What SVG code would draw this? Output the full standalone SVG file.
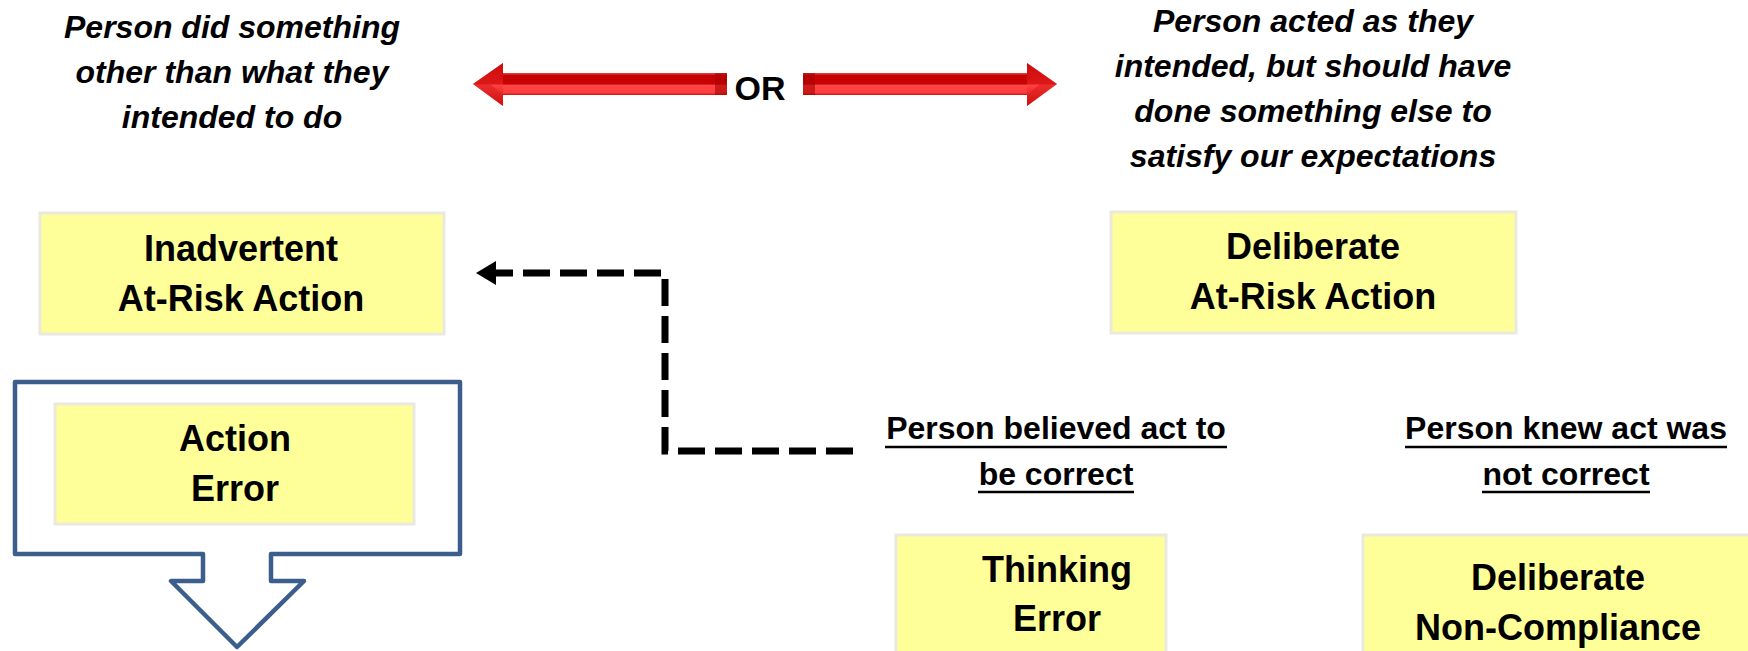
<svg xmlns="http://www.w3.org/2000/svg" width="1748" height="651" viewBox="0 0 1748 651">
  <style>
    text { font-family: "Liberation Sans", Arial, sans-serif; font-weight: bold; fill: #000; text-anchor: middle; }
    .it { font-style: italic; font-size: 32px; }
    .bx { font-size: 36px; }
    .lb { font-size: 32px; }
    .or { font-size: 34px; }
    .box { fill: #ffff99; stroke: #e9e9de; stroke-width: 3; }
    .ul { stroke: #000; stroke-width: 2.5; }
    .frame { fill: #fff; stroke: #3b5e8c; stroke-width: 4.5; stroke-linejoin: round; }
    .dash { fill: none; stroke: #000; stroke-width: 7; stroke-dasharray: 27 10; }
  </style>
  <defs>
    <linearGradient id="redShaft" x1="0" y1="0" x2="0" y2="1">
      <stop offset="0" stop-color="#e84a4a"/>
      <stop offset="0.12" stop-color="#c40000"/>
      <stop offset="0.5" stop-color="#c80404"/>
      <stop offset="0.56" stop-color="#ff4646"/>
      <stop offset="0.9" stop-color="#ff3c3c"/>
      <stop offset="1" stop-color="#c41010"/>
    </linearGradient>
    <linearGradient id="redHead" x1="0" y1="0" x2="0" y2="1">
      <stop offset="0" stop-color="#c00000"/>
      <stop offset="0.48" stop-color="#e01818"/>
      <stop offset="0.52" stop-color="#ff4040"/>
      <stop offset="1" stop-color="#c80808"/>
    </linearGradient>
    <marker id="blackHead" viewBox="0 0 20 24" refX="2" refY="12" markerWidth="20" markerHeight="24" markerUnits="userSpaceOnUse" orient="auto">
      <path d="M0,0 L20,12 L0,24 z" fill="#000"/>
    </marker>
  </defs>

  <!-- top explanatory texts -->
  <g id="text-inadvertent-desc">
    <text class="it" x="232" y="38">Person did something</text>
    <text class="it" x="232" y="83">other than what they</text>
    <text class="it" x="232" y="128">intended to do</text>
  </g>
  <g id="text-deliberate-desc">
    <text class="it" x="1313" y="32">Person acted as they</text>
    <text class="it" x="1313" y="77">intended, but should have</text>
    <text class="it" x="1313" y="122">done something else to</text>
    <text class="it" x="1313" y="167">satisfy our expectations</text>
  </g>

  <!-- OR double arrow -->
  <g id="or-arrows">
    <rect x="503" y="73" width="224" height="22" fill="url(#redShaft)"/>
    <path d="M715,73 L727,73 L727,95 L715,95 z" fill="#a80000" opacity="0.6"/>
    <path d="M473,84 L503,63 L503,106 z" fill="url(#redHead)"/>
    <path d="M473,84 L503,63 L503,73 L490,84 L503,95 L503,106 z" fill="#d81a1a" opacity="0.5"/>
    <rect x="803" y="73" width="224" height="22" fill="url(#redShaft)"/>
    <path d="M803,73 L815,73 L815,95 L803,95 z" fill="#a80000" opacity="0.6"/>
    <path d="M1057,84 L1027,63 L1027,106 z" fill="url(#redHead)"/>
    <path d="M1057,84 L1027,63 L1027,73 L1040,84 L1027,95 L1027,106 z" fill="#d81a1a" opacity="0.5"/>
    <text class="or" x="760" y="100">OR</text>
  </g>

  <!-- nodes -->
  <g id="node-inadvertent">
    <rect class="box" x="40" y="213" width="404" height="121"/>
    <text class="bx" x="241" y="261">Inadvertent</text>
    <text class="bx" x="241" y="311">At-Risk Action</text>
  </g>
  <g id="node-deliberate">
    <rect class="box" x="1111" y="212" width="405" height="121"/>
    <text class="bx" x="1313" y="259">Deliberate</text>
    <text class="bx" x="1313" y="309">At-Risk Action</text>
  </g>
  <g id="node-action-error">
    <path class="frame" d="M15,382 H460 V554 H271 V581 H304 L237,647 L171,581 H203 V554 H15 Z"/>
    <rect class="box" x="55" y="404" width="359" height="120"/>
    <text class="bx" x="235" y="451">Action</text>
    <text class="bx" x="235" y="501">Error</text>
  </g>
  <g id="label-believed">
    <text class="lb" x="1056" y="439">Person believed act to</text>
    <line class="ul" x1="885" y1="447" x2="1227" y2="447"/>
    <text class="lb" x="1056" y="485">be correct</text>
    <line class="ul" x1="978" y1="492" x2="1134" y2="492"/>
  </g>
  <g id="label-knew">
    <text class="lb" x="1566" y="439">Person knew act was</text>
    <line class="ul" x1="1405" y1="447" x2="1727" y2="447"/>
    <text class="lb" x="1566" y="485">not correct</text>
    <line class="ul" x1="1482" y1="492" x2="1650" y2="492"/>
  </g>
  <g id="node-thinking-error">
    <rect class="box" x="896" y="535" width="270" height="130"/>
    <text class="bx" x="1057" y="582">Thinking</text>
    <text class="bx" x="1057" y="631">Error</text>
  </g>
  <g id="node-deliberate-noncompliance">
    <rect class="box" x="1363" y="535" width="395" height="130"/>
    <text class="bx" x="1558" y="590">Deliberate</text>
    <text class="bx" x="1558" y="640">Non-Compliance</text>
  </g>

  <!-- connectors -->
  <g id="connectors">
    <path class="dash" d="M853,451 H665 V273 H494" marker-end="url(#blackHead)"/>
  </g>
</svg>
